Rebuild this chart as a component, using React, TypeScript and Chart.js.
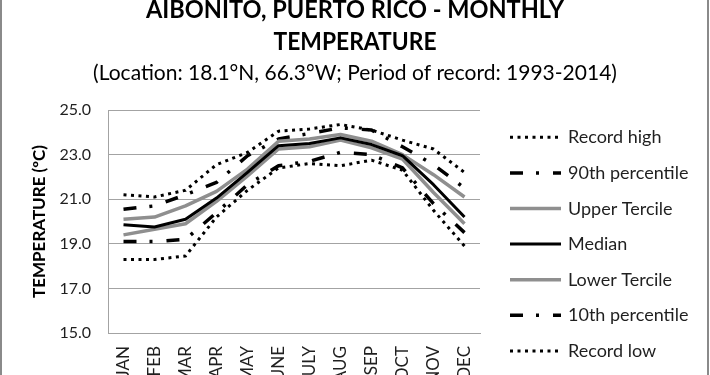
import { useEffect, useRef } from 'react';
import { Chart, registerables } from 'chart.js';

Chart.register(...registerables);

// ---------- data ----------
const months = ['JAN', 'FEB', 'MAR', 'APR', 'MAY', 'JUNE', 'JULY', 'AUG', 'SEP', 'OCT', 'NOV', 'DEC'];

const recordHigh = [21.2, 21.1, 21.4, 22.55, 23.1, 24.05, 24.15, 24.35, 24.1, 23.65, 23.25, 22.2];
const pct90 = [20.55, 20.7, 21.2, 21.75, 22.95, 23.7, 23.95, 24.2, 24.1, 23.35, 22.55, 21.5];
const upperTercile = [20.1, 20.2, 20.7, 21.35, 22.35, 23.6, 23.7, 23.9, 23.6, 23.0, 22.1, 21.1];
const median = [19.85, 19.75, 20.1, 21.05, 22.2, 23.4, 23.5, 23.75, 23.45, 22.95, 21.65, 20.2];
const lowerTercile = [19.4, 19.65, 19.9, 20.9, 22.05, 23.25, 23.35, 23.65, 23.3, 22.8, 21.3, 19.9];
const pct10 = [19.1, 19.1, 19.2, 20.4, 21.65, 22.5, 22.7, 23.1, 23.0, 22.4, 20.8, 19.5];
const recordLow = [18.3, 18.3, 18.45, 20.2, 21.4, 22.4, 22.6, 22.5, 22.75, 22.3, 20.5, 18.9];

const seriesLabels = ['Record high', '90th percentile', 'Upper Tercile', 'Median', 'Lower Tercile', '10th percentile', 'Record low'];
const seriesValues = [recordHigh, pct90, upperTercile, median, lowerTercile, pct10, recordLow];

const yMin = 15;
const yMax = 25;
const yStep = 2;

const titleLine1 = 'AIBONITO, PUERTO RICO - MONTHLY';
const titleLine2 = 'TEMPERATURE';
const subtitle = '(Location: 18.1°N, 66.3°W; Period of record: 1993-2014)';
const yAxisTitle = 'TEMPERATURE (ºC)';

// ---------- styles ----------
const FONT = 'Lato';
const GRAY = '#8f8f8f';
const TEXT = '#1f1f1f';
const GRID = '#a3a3a3';

const DOT = [3, 4.5];
const DASHDOT = [13, 13, 3, 14];

const seriesStyles = [
  { color: '#000', width: 3, dash: DOT, order: 2 },
  { color: '#000', width: 3.5, dash: DASHDOT, order: 2 },
  { color: GRAY, width: 3.5, dash: [] as number[], order: 1 },
  { color: '#000', width: 3, dash: [] as number[], order: 0 },
  { color: GRAY, width: 3.5, dash: [] as number[], order: 1 },
  { color: '#000', width: 3.5, dash: DASHDOT, order: 2 },
  { color: '#000', width: 3, dash: DOT, order: 2 },
];

const decorPlugin = {
  id: 'decor',
  beforeDraw(chart: any) {
    const { ctx, width, height } = chart;
    ctx.save();
    ctx.fillStyle = '#fff';
    ctx.fillRect(0, 0, width, height);
    ctx.restore();
  },
  afterDraw(chart: any) {
    const { ctx } = chart;
    ctx.save();
    // outer border (left/right visible)
    ctx.strokeStyle = '#8a8a8a';
    ctx.lineWidth = 2;
    ctx.beginPath();
    ctx.moveTo(1, 0);
    ctx.lineTo(1, chart.height);
    ctx.moveTo(708, 0);
    ctx.lineTo(708, chart.height);
    ctx.stroke();

    // titles
    ctx.fillStyle = '#000';
    ctx.textAlign = 'center';
    ctx.textBaseline = 'alphabetic';
    ctx.font = `bold 25px ${FONT}`;
    ctx.fillText(titleLine1, 355, 18, 418);
    ctx.fillText(titleLine2, 355, 50, 163);
    ctx.font = `21px ${FONT}`;
    ctx.fillText(subtitle, 355, 80, 536);

    // legend
    const x0 = 510;
    const x1 = 561;
    const tx = 568;
    const y0 = 137.3;
    const dy = 35.6;
    chart.data.datasets.forEach((ds: any, i: number) => {
      const y = y0 + i * dy;
      ctx.save();
      ctx.strokeStyle = ds.borderColor;
      ctx.lineWidth = ds.borderWidth;
      ctx.setLineDash(ds.borderDash || []);
      ctx.lineCap = 'butt';
      ctx.beginPath();
      ctx.moveTo(x0, y);
      ctx.lineTo(x1, y);
      ctx.stroke();
      ctx.restore();
      ctx.fillStyle = TEXT;
      ctx.textAlign = 'left';
      ctx.textBaseline = 'alphabetic';
      ctx.font = `18px ${FONT}`;
      ctx.fillText(ds.label, tx, y + 6);
    });
    ctx.restore();
  },
};

export default function App() {
  const ref = useRef<HTMLCanvasElement>(null);

  useEffect(() => {
    document.body.style.margin = '0';
    document.body.style.overflow = 'hidden';
    Chart.defaults.font.family = FONT;

    const datasets = seriesLabels.map((label, i) => ({
      label,
      data: seriesValues[i],
      borderColor: seriesStyles[i].color,
      backgroundColor: seriesStyles[i].color,
      borderWidth: seriesStyles[i].width,
      borderDash: seriesStyles[i].dash,
      borderCapStyle: 'butt' as const,
      borderJoinStyle: 'round' as const,
      order: seriesStyles[i].order,
      pointRadius: 0,
      fill: false,
      tension: 0,
    }));

    const chart = new Chart(ref.current!, {
      type: 'line',
      data: { labels: months, datasets },
      options: {
        responsive: false,
        animation: false,
        devicePixelRatio: 1,
        layout: { padding: { top: 110, right: 230, bottom: 0, left: 0 } },
        plugins: {
          legend: { display: false },
          title: { display: false },
          tooltip: { enabled: false },
        },
        scales: {
          x: {
            type: 'category',
            offset: true,
            grid: { display: false, drawTicks: false },
            border: { display: true, color: GRID, width: 1 },
            ticks: {
              autoSkip: false,
              minRotation: 90,
              maxRotation: 90,
              padding: 13,
              color: TEXT,
              font: { size: 17, family: FONT },
            },
            afterFit: (s: any) => {
              s.height = 67;
            },
          },
          y: {
            min: yMin,
            max: yMax,
            grid: { color: GRID, lineWidth: 1, drawTicks: false },
            border: { display: true, color: GRID, width: 1 },
            ticks: {
              stepSize: yStep,
              padding: 17,
              color: TEXT,
              font: { size: 16, family: FONT },
              callback: (v: any) => Number(v).toFixed(1),
            },
            title: {
              display: true,
              text: yAxisTitle,
              color: '#000',
              font: { size: 17, weight: 'bold', family: FONT },
              padding: { top: 29, bottom: 0 },
            },
            afterFit: (s: any) => {
              s.width = 108;
            },
          },
        },
      },
      plugins: [decorPlugin],
    });

    return () => chart.destroy();
  }, []);

  return <canvas ref={ref} width={710} height={400} style={{ display: 'block' }} />;
}
